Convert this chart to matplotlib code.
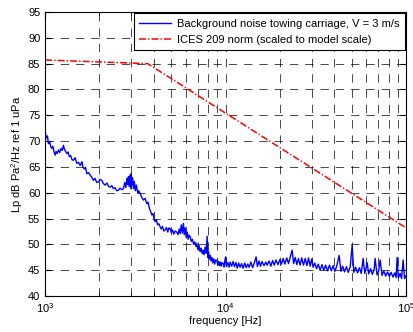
import matplotlib
matplotlib.use("Agg")
import matplotlib.pyplot as plt

plt.rcParams['font.family'] = ['Liberation Sans', 'DejaVu Sans']
plt.rcParams['font.size'] = 8
plt.rcParams['mathtext.fontset'] = 'custom'
plt.rcParams['mathtext.rm'] = 'Liberation Sans'
plt.rcParams['lines.scale_dashes'] = False

# background noise spectrum
noise_freq = [
    1000, 1015, 1030, 1043, 1060, 1075, 1089, 1105, 1120, 1136, 1150, 1168,
    1185, 1205, 1225, 1245, 1263, 1280, 1300, 1319, 1340, 1360, 1385, 1410,
    1435, 1465, 1498, 1530, 1563, 1580, 1597, 1620, 1650, 1675, 1702, 1740,
    1776, 1815, 1852, 1890, 1930, 1974, 2015, 2061, 2100, 2150, 2200, 2250,
    2292, 2340, 2390, 2440, 2490, 2548, 2600, 2660, 2716, 2760, 2800, 2840,
    2870, 2894, 2920, 2950, 2980, 3000, 3022, 3050, 3085, 3120, 3160, 3200,
    3221, 3260, 3300, 3360, 3420, 3504, 3580, 3660, 3720, 3780, 3840, 3901,
    3960, 4020, 4069, 4130, 4200, 4270, 4337, 4400, 4470, 4540, 4622, 4700,
    4780, 4850, 4926, 5000, 5080, 5160, 5250, 5365, 5450, 5530, 5600, 5680,
    5760, 5837, 5900, 5970, 6050, 6130, 6200, 6280, 6360, 6450, 6550, 6650,
    6750, 6850, 6925, 7020, 7120, 7220, 7320, 7420, 7505, 7600, 7700, 7800,
    7899, 7960, 8050, 8130, 8206, 8300, 8400, 8500, 8600, 8700, 8800, 8940,
    9050, 9150, 9250, 9350, 9450, 9550, 9685, 9800, 9900, 10000, 10100, 10300,
    10450, 10590, 10800, 11000, 11200, 11400, 11600, 11800, 12030, 12250,
    12500, 12750, 13000, 13250, 13500, 13800, 14100, 14400, 14750, 15000,
    15300, 15600, 15900, 16300, 16700, 16980, 17400, 17800, 18200, 18600,
    19000, 19500, 20000, 20400, 20830, 21300, 21800, 22300, 22800, 23360,
    23800, 24300, 24800, 25300, 25860, 26400, 27000, 27600, 28200, 28800,
    29400, 30000, 30530, 31200, 31900, 32600, 33390, 34200, 35000, 35800,
    36700, 37600, 38500, 39410, 40300, 41300, 42550, 43500, 44500, 45600,
    46700, 47800, 49000, 50220, 51300, 52500, 53800, 55100, 56400, 57790,
    59000, 60000, 60800, 62000, 63500, 65000, 66500, 67330, 69000, 70500,
    71780, 73500, 75200, 77000, 78800, 80700, 82600, 84600, 86600, 88000,
    89170, 90500, 92640, 94300, 96250, 98000, 100000,
]
noise_level = [
    71.8, 70.6, 71.0, 69.5, 69.9, 68.9, 68.6, 69.0, 67.9, 67.3, 68.0, 67.6,
    68.3, 67.8, 68.6, 68.2, 69.2, 68.4, 68.0, 67.6, 67.9, 67.0, 67.2, 66.4,
    66.3, 66.8, 65.7, 65.9, 65.3, 65.6, 66.0, 65.0, 64.6, 64.9, 63.7, 63.9,
    63.4, 63.0, 62.4, 62.8, 62.0, 62.1, 62.6, 62.4, 61.8, 61.5, 61.9, 61.2,
    61.1, 61.4, 60.8, 61.0, 60.4, 60.5, 60.9, 60.6, 60.8, 62.0, 61.0, 62.8,
    61.6, 63.1, 61.2, 63.4, 60.9, 63.7, 61.5, 62.9, 60.8, 62.2, 60.4, 61.5,
    61.0, 60.0, 60.4, 59.9, 59.2, 58.6, 58.9, 57.9, 58.2, 57.0, 56.4, 55.7,
    56.0, 54.8, 54.4, 54.8, 53.8, 54.0, 53.4, 53.0, 53.5, 52.6, 52.8, 53.3,
    52.4, 53.2, 53.1, 52.3, 52.8, 52.0, 52.6, 52.4, 51.9, 53.0, 52.1, 53.8,
    52.2, 54.1, 51.9, 53.2, 51.3, 52.4, 51.0, 51.8, 51.5, 50.6, 51.0, 50.0,
    50.5, 49.6, 50.2, 49.0, 49.8, 48.6, 49.3, 48.2, 48.9, 48.0, 49.5, 48.3,
    51.6, 47.5, 48.6, 47.2, 47.9, 46.8, 47.5, 46.4, 47.2, 46.2, 47.0, 46.9,
    46.0, 46.7, 45.9, 46.6, 45.8, 46.5, 46.3, 45.6, 46.8, 47.6, 45.7, 46.5,
    45.6, 46.6, 45.8, 46.7, 45.7, 46.5, 45.4, 46.4, 45.6, 46.3,
    45.4, 46.4, 45.5, 46.2, 45.6, 46.6, 45.5, 46.4, 47.6, 45.7,
    46.8, 45.8, 46.7, 45.9, 46.6, 46.0, 46.8, 45.8, 46.9, 46.0,
    47.0, 46.1, 47.1, 46.2, 47.3, 46.2, 47.4, 46.3, 47.6, 48.9,
    46.3, 47.5, 46.1, 47.3, 46.0, 47.4, 46.0, 47.3, 45.9, 47.4,
    45.8, 47.2, 45.6, 46.4, 45.3, 46.2, 45.0, 46.1, 45.0, 46.0,
    44.9, 46.0, 44.9, 45.9, 44.8, 45.9, 47.9, 44.8, 45.8, 44.7,
    45.7, 44.6, 45.7, 49.8, 44.6, 45.6, 44.5, 45.5, 44.4, 47.3,
    44.4, 45.4, 46.5, 44.3, 45.3, 44.2, 45.2, 47.3, 44.1, 45.0,
    47.0, 44.0, 44.9, 43.9, 44.7, 43.8, 44.6, 43.7, 44.5, 43.6,
    47.5, 43.5, 44.4, 43.4, 47.0, 43.4, 44.0,
]

# ICES 209 norm (scaled to model scale)
ices_freq = [1000, 3700, 100000]
ices_level = [85.7, 85.0, 53.2]

fig = plt.figure(figsize=(4.14, 3.32), dpi=100)
ax = fig.add_axes([0.109, 0.108, 0.872, 0.856])

ax.semilogx(noise_freq, noise_level, color='b', lw=1.0,
            label='Background noise towing carriage, V = 3 m/s')
ax.semilogx(ices_freq, ices_level, color='r', lw=1.1, linestyle=(0, (5, 1.5, 1, 1.5)),
            label='ICES 209 norm (scaled to model scale)')

ax.set_xlim(1e3, 1e5)
ax.set_ylim(40, 95)
ax.set_yticks(range(40, 96, 5))

ax.grid(True, which='major', color='k', lw=0.5, linestyle=(0, (6, 5)))
ax.grid(True, which='minor', axis='x', color='k', lw=0.5, linestyle=(0, (6, 5)))
ax.tick_params(which='both', direction='in', top=True, right=True, labelsize=8)
ax.tick_params(which='major', length=4)
ax.tick_params(which='minor', length=2)
for s in ax.spines.values():
    s.set_linewidth(0.8)

ax.set_xlabel('frequency [Hz]', labelpad=1)
ax.set_ylabel('Lp dB Pa$^2$/Hz ref 1 uPa', labelpad=2)

leg = ax.legend(loc='upper right', fontsize=8, fancybox=False, framealpha=1,
                edgecolor='k', borderaxespad=0.1, handlelength=2.9,
                labelspacing=0.55, borderpad=0.5, handletextpad=0.5)
leg.get_frame().set_linewidth(0.8)

fig.savefig('out.png', dpi=100)
